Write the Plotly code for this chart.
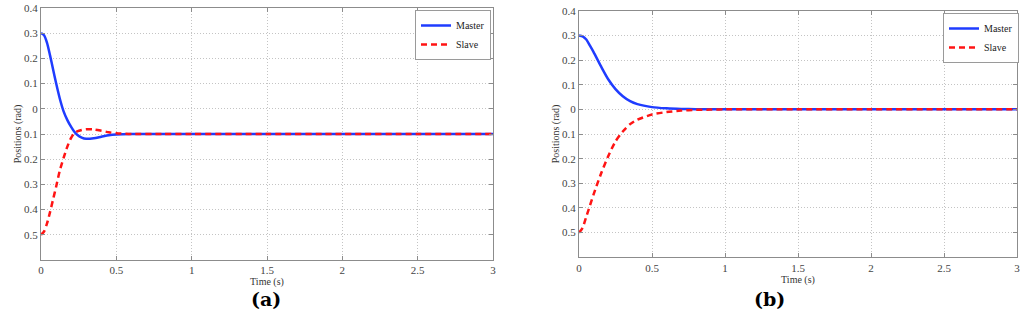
import plotly.graph_objects as go

# ---- data ----
t_a = [0, 0.02, 0.04, 0.06, 0.08, 0.10, 0.125, 0.15, 0.175, 0.20, 0.22, 0.24, 0.27, 0.30,
       0.35, 0.40, 0.45, 0.50, 0.60, 0.80, 1.0, 1.5, 2.0, 2.5, 3.0]
master_a = [0.30, 0.292, 0.262, 0.212, 0.157, 0.102, 0.04, -0.01, -0.045, -0.072, -0.09, -0.103,
            -0.114, -0.119, -0.117, -0.111, -0.105, -0.102, -0.100, -0.100, -0.100, -0.100,
            -0.100, -0.100, -0.100]
slave_a = [-0.50, -0.487, -0.455, -0.41, -0.36, -0.31, -0.245, -0.195, -0.15, -0.115, -0.098,
           -0.090, -0.084, -0.081, -0.082, -0.087, -0.093, -0.097, -0.100, -0.100, -0.100,
           -0.100, -0.100, -0.100, -0.100]

t_b = [0, 0.025, 0.05, 0.075, 0.10, 0.15, 0.20, 0.25, 0.30, 0.35, 0.40, 0.50, 0.60, 0.70,
       0.80, 0.90, 1.0, 1.5, 2.0, 2.5, 3.0]
master_b = [0.30, 0.296, 0.283, 0.258, 0.232, 0.175, 0.122, 0.082, 0.053, 0.033, 0.021, 0.009,
            0.004, 0.0015, 0.0005, 0.0, 0.0, 0.0, 0.0, 0.0, 0.0]
slave_b = [-0.50, -0.48, -0.435, -0.39, -0.345, -0.262, -0.19, -0.13, -0.09, -0.06, -0.042,
           -0.021, -0.011, -0.005, -0.002, -0.001, 0.0, 0.0, 0.0, 0.0, 0.0]

x_ticks = [0, 0.5, 1, 1.5, 2, 2.5, 3]
x_ticktext = ["0", "0.5", "1", "1.5", "2", "2.5", "3"]
y_ticks = [0.4, 0.3, 0.2, 0.1, 0, -0.1, -0.2, -0.3, -0.4, -0.5]
y_ticktext = ["0.4", "0.3", "0.2", "0.1", "0", "0.1", "0.2", "0.3", "0.4", "0.5"]
panel_labels = ["(a)", "(b)"]
series_names = ["Master", "Slave"]

W, H = 1024, 327
BLUE = "#1f3cff"
RED = "#ff1414"
FONT = "Liberation Serif"

fig = go.Figure()

panels = [
    dict(t=t_a, m=master_a, s=slave_a, xa="x", ya="y", leg="legend"),
    dict(t=t_b, m=master_b, s=slave_b, xa="x2", ya="y2", leg="legend2"),
]
for p in panels:
    fig.add_trace(go.Scatter(x=p["t"], y=p["m"], mode="lines", name=series_names[0],
                             xaxis=p["xa"], yaxis=p["ya"], legend=p["leg"],
                             line=dict(color=BLUE, width=2.5, shape="spline", smoothing=0.7)))
    fig.add_trace(go.Scatter(x=p["t"], y=p["s"], mode="lines", name=series_names[1],
                             xaxis=p["xa"], yaxis=p["ya"], legend=p["leg"],
                             line=dict(color=RED, width=2.5, dash="6px,4px",
                                       shape="spline", smoothing=0.7)))

def fx(px):
    return px / W

def fy(py):
    return 1 - py / H

axis_common = dict(
    showline=True, linecolor="#8c8c8c", linewidth=1, mirror="ticks",
    showgrid=True, gridcolor="#c4c4c4", griddash="1px,2px", gridwidth=1,
    ticks="inside", ticklen=4, tickcolor="#8c8c8c",
    tickfont=dict(family=FONT, size=11, color="#444444"),
    zeroline=False, fixedrange=True, automargin=False,
)

xcommon = dict(axis_common, range=[0, 3], tickvals=x_ticks, ticktext=x_ticktext,
               title=dict(text="Time (s)", font=dict(family=FONT, size=10, color="#333333"),
                          standoff=0))
ycommon = dict(axis_common, range=[-0.6, 0.4], tickvals=y_ticks, ticktext=y_ticktext,
               title=dict(text="Positions (rad)", font=dict(family=FONT, size=10, color="#333333"),
                          standoff=0))

legend_common = dict(
    bgcolor="white", bordercolor="#9a9a9a", borderwidth=1,
    font=dict(family=FONT, size=10, color="#222222"),
    xanchor="right", yanchor="top", itemwidth=30, tracegroupgap=0,
)

fig.update_layout(
    width=W, height=H,
    margin=dict(l=0, r=0, t=0, b=0, autoexpand=False),
    paper_bgcolor="white", plot_bgcolor="white",
    xaxis=dict(xcommon, domain=[fx(41), fx(493)], anchor="y"),
    yaxis=dict(ycommon, domain=[fy(260), fy(8)], anchor="x"),
    xaxis2=dict(xcommon, domain=[fx(579), fx(1017)], anchor="y2"),
    yaxis2=dict(ycommon, domain=[fy(257.3), fy(10.7)], anchor="x2"),
    legend=dict(legend_common, x=fx(491), y=fy(10)),
    legend2=dict(legend_common, x=fx(1019), y=fy(13)),
    annotations=[
        dict(text="<b>" + panel_labels[0] + "</b>", x=fx(249), y=fy(312),
             xref="paper", yref="paper", showarrow=False,
             font=dict(family="DejaVu Serif", size=19, color="black")),
        dict(text="<b>" + panel_labels[1] + "</b>", x=fx(787), y=fy(312),
             xref="paper", yref="paper", showarrow=False,
             font=dict(family="DejaVu Serif", size=19, color="black")),
    ],
)

# remove the browser's default 8px page margin so the figure fills the window exactly
fig.write_html("out.html",
               config={"displayModeBar": False, "staticPlot": True},
               post_script="document.body.style.margin='0';document.body.style.overflow='hidden';")
